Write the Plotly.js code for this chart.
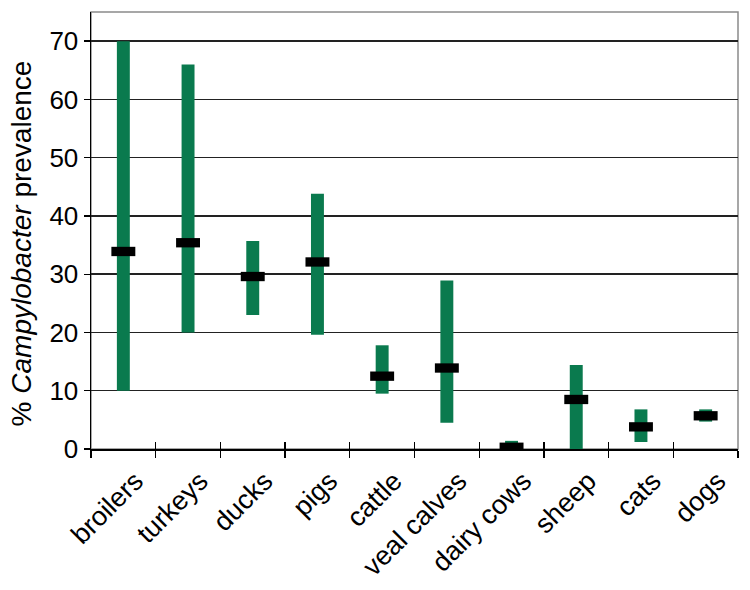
<!DOCTYPE html>
<html>
<head>
<meta charset="utf-8">
<script src="https://cdn.plot.ly/plotly-3.0.1.min.js"></script>
<style>
  html, body { margin:0; padding:0; background:#fff; }
  #chart { width:750px; height:590px; }
</style>
</head>
<body>
<div id="chart"></div>
<script>
  // animal groups, left to right
  const hosts = ['broilers','turkeys','ducks','pigs','cattle','veal calves','dairy cows','sheep','cats','dogs'];
  // % prevalence range (low / high) and the middle value
  const lowPct  = [10, 20, 23, 19.6, 9.5, 4.5, -1.2, 0, 1.2, 4.7];
  const highPct = [70, 66, 35.7, 43.8, 17.8, 28.9, 1.4, 14.4, 6.8, 6.8];
  const midPct  = [33.9, 35.4, 29.6, 32.1, 12.5, 13.9, 0.3, 8.5, 3.8, 5.7];
  const yTicks  = [0, 10, 20, 30, 40, 50, 60, 70];

  const FONT = 'Liberation Sans, Arial, Helvetica, sans-serif';
  const midHalf = 0.8; // half thickness of the black marker, in % units

  const rangeTrace = {
    type:'bar', x:hosts,
    base: lowPct,
    y: highPct.map((h,i)=>h-lowPct[i]),
    width: 0.2,
    marker:{ color:'#0a7a4e', line:{width:0} },
    cliponaxis:false,
    hoverinfo:'skip', showlegend:false
  };
  const midTrace = {
    type:'bar', x:hosts, xaxis:'x2',
    base: midPct.map(m=>m-midHalf),
    y: midPct.map(()=>2*midHalf),
    width: 0.37,
    marker:{ color:'#000', line:{width:0} },
    cliponaxis:false,
    hoverinfo:'skip', showlegend:false
  };

  const xCommon = {
    type:'category', categoryarray:hosts, range:[-0.5, 9.5],
    tickson:'boundaries', ticklen:7, tickwidth:1.3, tickcolor:'#000',
    showgrid:false, zeroline:false, fixedrange:true
  };

  const layout = {
    width:750, height:590,
    margin:{ l:91, r:12, t:12, b:141 },
    paper_bgcolor:'#fff', plot_bgcolor:'#fff',
    barmode:'overlay',
    font:{ family:FONT, color:'#000', size:24 },
    xaxis: Object.assign({}, xCommon, {
      ticks:'outside', tickangle:-45,
      ticklabelshift:12, ticklabelstandoff:4,
      tickfont:{ family:FONT, size:27, color:'#000' },
      showline:true, linecolor:'#000', linewidth:1.5
    }),
    xaxis2: Object.assign({}, xCommon, {
      overlaying:'x', anchor:'y', side:'bottom',
      ticks:'inside', showticklabels:false, showline:false
    }),
    yaxis: {
      range:[0, 75], tickvals:yTicks,
      ticks:'outside', ticklen:6, tickwidth:1.3, tickcolor:'#000',
      tickfont:{ family:FONT, size:26, color:'#000' },
      showgrid:true, gridcolor:'#222', gridwidth:1.5,
      zeroline:false, showline:true, linecolor:'#000', linewidth:1.5,
      fixedrange:true
    },
    shapes:[{
      type:'rect', xref:'paper', yref:'paper', x0:0, x1:1, y0:0, y1:1,
      line:{ color:'#8a8a8a', width:1.5 }, layer:'below'
    }],
    annotations:[{
      text:'% <i>Campylobacter</i> prevalence',
      xref:'paper', yref:'paper', x:-0.107, y:0.47,
      xanchor:'center', yanchor:'middle', textangle:-90, showarrow:false,
      font:{ family:FONT, size:28, color:'#000' }
    }]
  };

  Plotly.newPlot('chart', [rangeTrace, midTrace], layout, { displayModeBar:false, staticPlot:true });
</script>
</body>
</html>
